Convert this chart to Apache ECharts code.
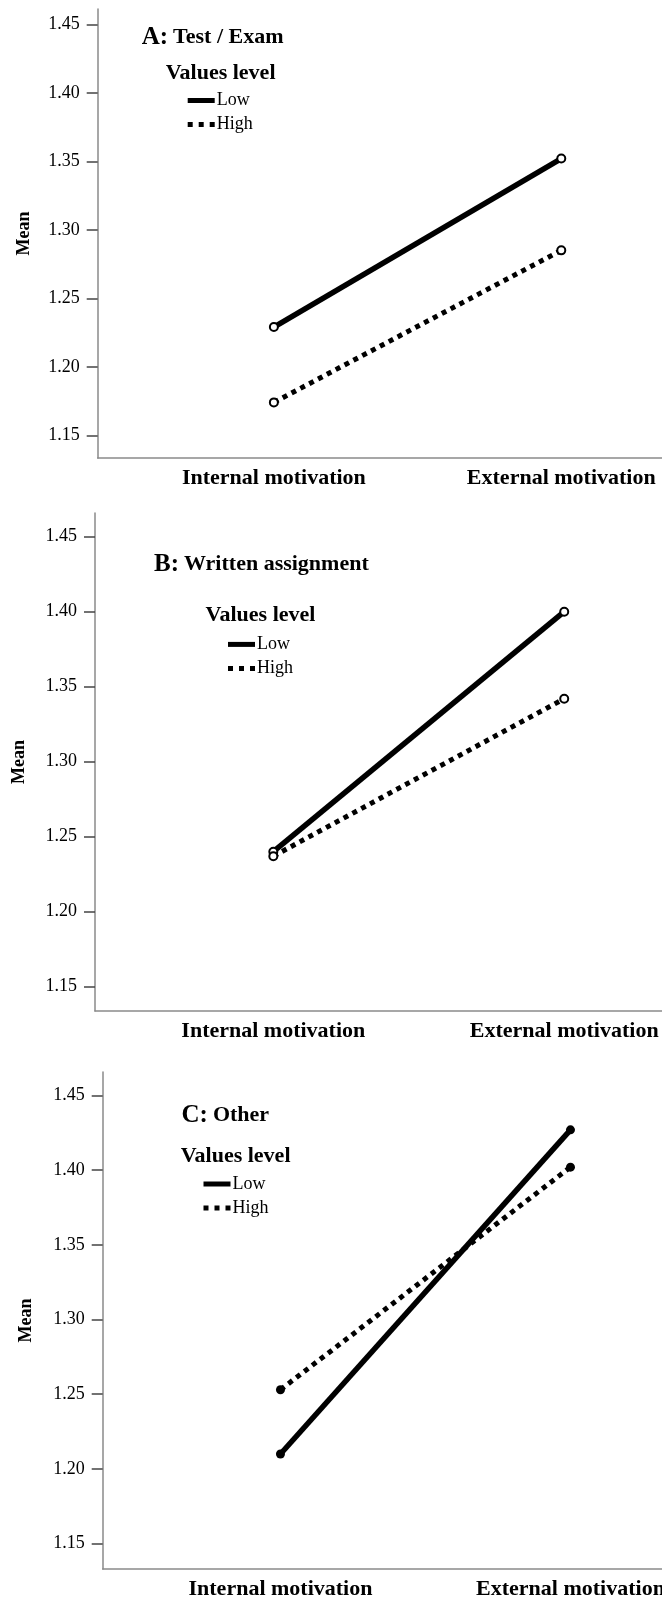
<!DOCTYPE html>
<html>
<head>
<meta charset="utf-8">
<script src="https://cdn.jsdelivr.net/npm/echarts@6/dist/echarts.min.js"></script>
<style>
html,body{margin:0;padding:0;background:#fff;}
#chart{width:662px;height:1600px;}
</style>
</head>
<body>
<div id="chart"></div>
<script>
// ---- data ----
const categories = ['Internal motivation', 'External motivation'];
const yTicks = [1.15, 1.20, 1.25, 1.30, 1.35, 1.40, 1.45];
const seriesNames = ['Low', 'High'];
const legendTitle = 'Values level';
const panelLetters = ['A:', 'B:', 'C:'];
const panelNames = ['Test / Exam', 'Written assignment', 'Other'];
const lowA = [1.229, 1.352];
const highA = [1.174, 1.285];
const lowB = [1.240, 1.400];
const highB = [1.237, 1.342];
const lowC = [1.210, 1.427];
const highC = [1.253, 1.402];

const FONT = "'Liberation Serif','Times New Roman',serif";
const panelValues = [[lowA, highA], [lowB, highB], [lowC, highC]];

// layout per panel (pixels)
const W = 662;
const layout = [
  {left: 97.7, top: 9, height: 449, unit: 287.4, ymin: 1.1334, ymax: 1.4612, nameGap: 64,
   titleLeft: 141.7, titleTop: 25, vlLeft: 165.7, vlTop: 62, lgLeft: 187.7, lgTop: 91.5, hollow: true},
  {left: 95, top: 513, height: 498, unit: 290.9, ymin: 1.1338, ymax: 1.4658, nameGap: 67,
   titleLeft: 154, titleTop: 552, vlLeft: 205.6, vlTop: 604, lgLeft: 228, lgTop: 635.4, hollow: true},
  {left: 102.7, top: 1072, height: 497, unit: 290, ymin: 1.133, ymax: 1.4657, nameGap: 67,
   titleLeft: 181.5, titleTop: 1103, vlLeft: 180.7, vlTop: 1145, lgLeft: 203.5, lgTop: 1175, hollow: false}
];
const XMIN = -0.613;

const grid = [], xAxis = [], yAxis = [], series = [], title = [], legend = [];
const dotPath = 'path://M0,0h5v5h-5z M11,0h5v5h-5z M22,0h5v5h-5z';

layout.forEach((L, i) => {
  const gw = W - L.left;
  const xmax = XMIN + gw / L.unit;
  grid.push({left: L.left, top: L.top, height: L.height, width: gw,
             containLabel: false, outerBoundsMode: 'none'});
  xAxis.push({
    type: 'value', gridIndex: i, min: XMIN, max: xmax,
    axisLine: {show: true, onZero: false, lineStyle: {color: '#8a8a8a', width: 1.5}},
    axisTick: {show: false},
    splitLine: {show: false},
    axisLabel: {
      customValues: [0, 1], margin: 9, hideOverlap: false,
      formatter: v => categories[Math.round(v)],
      fontFamily: FONT, fontWeight: 'bold', fontSize: 22, color: '#000'
    }
  });
  yAxis.push({
    type: 'value', gridIndex: i, min: L.ymin, max: L.ymax,
    name: 'Mean', nameLocation: 'middle', nameGap: L.nameGap,
    nameTextStyle: {fontFamily: FONT, fontWeight: 'bold', fontSize: 18, color: '#000'},
    axisLine: {show: true, onZero: false, lineStyle: {color: '#8a8a8a', width: 1.5}},
    axisTick: {show: true, customValues: yTicks, length: 11, lineStyle: {color: '#444', width: 1.5}},
    splitLine: {show: false},
    axisLabel: {
      customValues: yTicks, margin: 18,
      formatter: v => v.toFixed(2),
      fontFamily: FONT, fontSize: 18, color: '#000'
    }
  });
  const [low, high] = panelValues[i];
  [low, high].forEach((vals, k) => {
    series.push({
      name: seriesNames[k], type: 'line', xAxisIndex: i, yAxisIndex: i,
      data: vals.map((v, j) => [j, v]),
      symbol: L.hollow ? 'emptyCircle' : 'circle',
      symbolSize: L.hollow ? 8 : 9,
      itemStyle: {color: '#000', borderColor: L.hollow ? '#444' : '#000', borderWidth: L.hollow ? 1.2 : 0},
      lineStyle: k === 0
        ? {color: '#000', width: 5.5, type: 'solid'}
        : {color: '#000', width: 5, type: [5, 5], cap: 'butt'},
      emphasis: {disabled: true},
      animation: false,
      z: 2 + k
    });
  });
  title.push({
    left: L.titleLeft, top: L.titleTop, padding: 0,
    text: '{a|' + panelLetters[i] + '} {b|' + panelNames[i] + '}',
    textStyle: {
      rich: {
        a: {fontFamily: FONT, fontWeight: 'bold', fontSize: 25, color: '#000'},
        b: {fontFamily: FONT, fontWeight: 'bold', fontSize: 22, color: '#000'}
      }
    }
  });
  title.push({
    left: L.vlLeft, top: L.vlTop, padding: 0,
    text: legendTitle,
    textStyle: {fontFamily: FONT, fontWeight: 'bold', fontSize: 22, color: '#000'}
  });
  legend.push({
    left: L.lgLeft, top: L.lgTop, padding: 0, orient: 'vertical',
    itemWidth: 27, itemHeight: 5, itemGap: 6, selectedMode: false,
    itemStyle: {borderWidth: 0, color: '#000'},
    textStyle: {fontFamily: FONT, fontSize: 18, color: '#000', lineHeight: 17, padding: [0, 0, 0, -3]},
    data: [{name: seriesNames[0], icon: 'rect'}, {name: seriesNames[1], icon: dotPath}]
  });
});

const chart = echarts.init(document.getElementById('chart'), null, {renderer: 'canvas'});
chart.setOption({
  backgroundColor: '#fff',
  animation: false,
  title, legend, grid, xAxis, yAxis, series
});
</script>
</body>
</html>
